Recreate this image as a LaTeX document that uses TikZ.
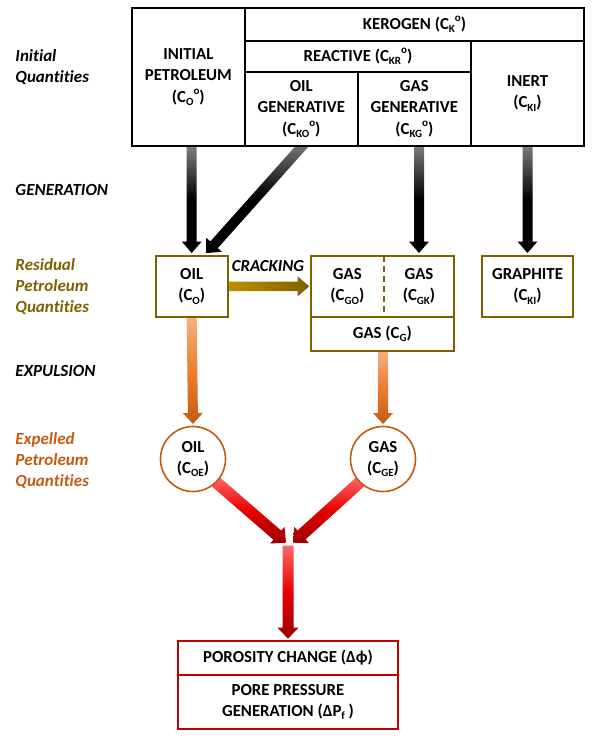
\documentclass[tikz,border=0pt]{standalone}
\usepackage{fontspec}
\setmainfont{Carlito}[Ligatures=NoCommon]
\usetikzlibrary{calc}
\pgfdeclarelayer{background}
\pgfsetlayers{background,main}
\definecolor{olivebr}{HTML}{7F6000}
\definecolor{goldc}{HTML}{BF9000}
\definecolor{orgdark}{HTML}{C55A11}
\definecolor{orgmid}{HTML}{ED7D31}
\definecolor{orglight}{HTML}{F4B183}
\definecolor{redbox}{HTML}{C00000}
\definecolor{redlight}{HTML}{FF6666}
\definecolor{redmid}{HTML}{E60000}
\definecolor{reddark}{HTML}{9A0000}
\newcommand\sub[1]{\raisebox{-0.2em}{\fontsize{11}{11}\selectfont #1}}
\newcommand\supo{\raisebox{0.45em}{\fontsize{11}{11}\selectfont o}}
% #1 shading options, #2 from, #3 to, #4 half shaft, #5 half head, #6 head length
\newcommand\fatarrow[6]{%
  \path coordinate (fah) at ($(#3)!#6pt!(#2)$);
  \shade[#1] ($(#2)!#4pt!90:(#3)$) -- ($(fah)!#4pt!90:(#3)$) -- ($(fah)!#5pt!90:(#3)$) -- (#3)
     -- ($(fah)!#5pt!-90:(#3)$) -- ($(fah)!#4pt!-90:(#3)$) -- ($(#2)!#4pt!-90:(#3)$) -- cycle;
}
\begin{document}
\begin{tikzpicture}[x=1pt,y=-1pt,
  every node/.style={font=\fontsize{16.8}{21.3}\selectfont\bfseries, align=center, inner sep=0pt, outer sep=0pt},
  tcell/.style={draw=black, fill=white, line width=2pt},
  bbox/.style={draw=olivebr, line width=2pt},
  rbox/.style={draw=redbox, line width=2pt},
  ocirc/.style={draw=orgdark, fill=white, line width=1.6pt, circle, minimum size=65pt},
  sidelab/.style={font=\fontsize{17}{21}\selectfont\bfseries\itshape, align=left, anchor=west},
  blackarr/.style={top color=black!50, bottom color=black, middle color=black},
  crackarr/.style={left color=goldc, right color=olivebr},
  orangearr/.style={top color=orglight, bottom color=orgdark, middle color=orgmid},
  redarr/.style={top color=redlight, bottom color=reddark, middle color=redmid}
]
\useasboundingbox (0,0) rectangle (592,738);

% side labels
\node[sidelab] (lab1) at (15.5,67) {Initial\\Quantities};
\node[sidelab] (lab2) at (15.5,190) {GENERATION};
\node[sidelab, text=olivebr] (lab3) at (15.5,287) {Residual\\Petroleum\\Quantities};
\node[sidelab] (lab4) at (15.5,371) {EXPULSION};
\node[sidelab, text=orgdark] (lab5) at (15.5,461) {Expelled\\Petroleum\\Quantities};

% initial table
\node[tcell, minimum width=113.3pt, minimum height=137.4pt] (init) at (188.35,77) {INITIAL\\PETROLEUM\\(C\sub{O}\supo)};
\node[tcell, minimum width=339pt, minimum height=32.7pt] (kerogen) at (414.5,24.65) {KEROGEN (C\sub{K}\supo)};
\node[tcell, minimum width=226pt, minimum height=31.3pt] (reactive) at (358,56.65) {REACTIVE (C\sub{KR}\supo)};
\node[tcell, minimum width=112.7pt, minimum height=73.4pt] (oilgen) at (301.35,109) {OIL\\GENERATIVE\\(C\sub{KO}\supo)};
\node[tcell, minimum width=113.3pt, minimum height=73.4pt] (gasgen) at (414.35,109) {GAS\\GENERATIVE\\(C\sub{KG}\supo)};
\node[tcell, minimum width=113pt, minimum height=104.7pt] (inert) at (527.5,93.35) {INERT\\(C\sub{KI})};

% residual
\node[bbox, minimum width=72pt, minimum height=60.7pt] (oil) at (191.7,286.35) {OIL\\(C\sub{O})};
\node[minimum width=73.3pt, minimum height=60.7pt] (gasgo) at (347.35,286.35) {GAS\\(C\sub{GO})};
\node[minimum width=70pt, minimum height=60.7pt] (gasgk) at (419,286.35) {GAS\\(C\sub{GK})};
\draw[bbox] (gasgo.north west) rectangle (gasgk.south east);
\draw[olivebr, line width=2pt, dash pattern=on 6pt off 4pt] (gasgo.north east) -- (gasgo.south east);
\node[bbox, minimum width=143.3pt, minimum height=34pt] (gasg) at (382.35,333.7) {GAS (C\sub{G})};
\node[bbox, minimum width=91.6pt, minimum height=60.7pt] (graphite) at (527.5,286.35) {GRAPHITE\\(C\sub{KI})};
\node[font=\fontsize{16.8}{21}\selectfont\bfseries\itshape] (crk) at (268,266) {CRACKING};

% expelled
\node[ocirc] (oilc) at (193,459) {OIL\\(C\sub{OE})};
\node[ocirc] (gasc) at (383,459) {GAS\\(C\sub{GE})};

% result
\node[rbox, minimum width=220.6pt, minimum height=34.3pt] (poro) at (288,657.85) {POROSITY CHANGE (Δϕ)};
\node[rbox, minimum width=220.6pt, minimum height=54pt] (pore) at (288,702) {PORE PRESSURE\\GENERATION (ΔP\sub{f} )};

% arrow end points
\coordinate (a1s) at (oil.north |- init.south);
\coordinate (a1e) at ($(oil.north)+(0,-3)$);
\coordinate (a2s) at ($(oilgen.south)+(3,-2)$);
\coordinate (a2e) at ($(oil.north)+(15,-3)$);
\coordinate (a3s) at ($(gasgk.north |- gasgen.south)+(0,-1)$);
\coordinate (a3e) at ($(gasgk.north)+(0,-3)$);
\coordinate (a4s) at ($(inert.south)+(0,-1)$);
\coordinate (a4e) at ($(graphite.north)+(0,-3)$);
\coordinate (cks) at (oil.east);
\coordinate (cke) at ($(gasgo.west)+(-1.5,0)$);
\coordinate (o1s) at (oil.south);
\coordinate (o1e) at ($(oilc.north)+(0,-2.5)$);
\coordinate (o2s) at (gasc.north |- gasg.south);
\coordinate (o2e) at ($(gasc.north)+(0,-2.5)$);
\coordinate (r1s) at (oilc.-45);
\coordinate (r2s) at (gasc.-135);
\coordinate (merge) at ($(poro.north)+(0,-95)$);
\coordinate (r1e) at ($(merge)+(-2,-3)$);
\coordinate (r2e) at ($(merge)+(5,-3)$);
\coordinate (r3e) at ($(poro.north)+(0,-2)$);

\begin{pgfonlayer}{background}
\fatarrow{blackarr}{a1s}{a1e}{5}{10}{11.5}
\fatarrow{blackarr}{a2s}{a2e}{5}{10.5}{11}
\fatarrow{blackarr}{a3s}{a3e}{5}{10}{11.5}
\fatarrow{blackarr}{a4s}{a4e}{5}{10}{11.5}
\fatarrow{crackarr}{cks}{cke}{4.7}{10}{11.5}
\fatarrow{orangearr}{o1s}{o1e}{5}{10}{11}
\fatarrow{orangearr}{o2s}{o2e}{5}{10}{11}
\fatarrow{redarr}{r1s}{r1e}{6}{11}{11.5}
\fatarrow{redarr}{r2s}{r2e}{6}{11}{11.5}
\fatarrow{redarr}{merge}{r3e}{5.5}{10.5}{11}
\end{pgfonlayer}
\end{tikzpicture}
\end{document}
